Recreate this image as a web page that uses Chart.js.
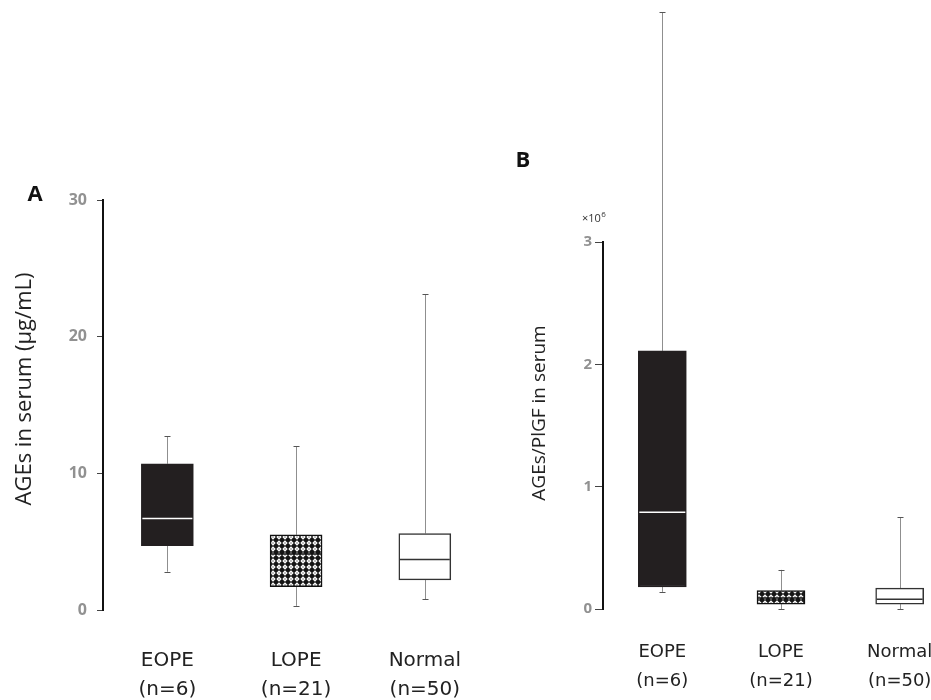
<!DOCTYPE html>
<html>
<head>
<meta charset="utf-8">
<script src="https://cdn.jsdelivr.net/npm/chart.js@4.4.0/dist/chart.umd.min.js"></script>
<style>
  html, body { margin: 0; padding: 0; background: #fff; overflow: hidden; width: 931px; height: 700px; }
  #chartA { position: absolute; left: 0; top: 0; }
  #chartB { position: absolute; left: 480px; top: 0; }
</style>
</head>
<body>
<canvas id="chartA" width="497" height="700"></canvas>
<canvas id="chartB" width="482" height="700"></canvas>
<script>
// groups
var categories = ["EOPE", "LOPE", "Normal"];
var sampleSizes = ["(n=6)", "(n=21)", "(n=50)"];

// panel A: AGEs in serum (ug/mL)
var agesMin    = [2.8, 0.3, 0.8];
var agesQ1     = [4.7, 1.7, 2.2];
var agesMedian = [6.7, 4.1, 3.7];
var agesQ3     = [10.7, 5.5, 5.6];
var agesMax    = [12.7, 12.0, 23.1];
var agesTicks  = [0, 10, 20, 30];

// panel B: AGEs/PlGF in serum (x10^6)
var ratioMin    = [0.14, 0.0, 0.0];
var ratioQ1     = [0.18, 0.04, 0.04];
var ratioMedian = [0.79, 0.09, 0.08];
var ratioQ3     = [2.11, 0.15, 0.17];
var ratioMax    = [4.88, 0.32, 0.75];
var ratioTicks  = [0, 1, 2, 3];

// diamond lattice fill for the LOPE box
function makePattern() {
  var c = document.createElement('canvas');
  c.width = 6; c.height = 6;
  var g = c.getContext('2d');
  g.fillStyle = '#151515';
  g.fillRect(0, 0, 6, 6);
  g.fillStyle = '#fff';
  g.beginPath();
  g.moveTo(3, 0.3); g.lineTo(5.7, 3); g.lineTo(3, 5.7); g.lineTo(0.3, 3);
  g.closePath();
  g.fill();
  g.fillStyle = '#151515';
  g.fillRect(2.5, 2.5, 1, 1);
  return g.createPattern(c, 'repeat');
}
var dots = makePattern();

var boxFill   = ['#231f20', dots, '#ffffff'];
var boxBorder = ['#231f20', '#111111', '#333333'];
var medColor  = ['#ffffff', '#111111', '#333333'];

var boxPlugin = {
  id: 'boxParts',
  beforeDatasetsDraw: function (chart) {
    var s = chart.config.options.plugins.boxParts;
    var x = chart.scales.x, y = chart.scales.y, ctx = chart.ctx;
    ctx.save();
    s.min.forEach(function (v, i) {
      var px = Math.round(x.getPixelForValue(i)) + 0.5;
      ctx.strokeStyle = '#8f8f8f';
      ctx.lineWidth = 1;
      ctx.beginPath();
      ctx.moveTo(px, y.getPixelForValue(s.max[i]));
      ctx.lineTo(px, y.getPixelForValue(s.q3[i]));
      ctx.moveTo(px, y.getPixelForValue(s.q1[i]));
      ctx.lineTo(px, y.getPixelForValue(v));
      ctx.stroke();
      ctx.strokeStyle = '#555';
      ctx.beginPath();
      [s.max[i], v].forEach(function (w) {
        var py = Math.round(y.getPixelForValue(w)) + 0.5;
        ctx.moveTo(px - 3, py);
        ctx.lineTo(px + 3, py);
      });
      ctx.stroke();
    });
    ctx.restore();
  },
  afterDatasetsDraw: function (chart) {
    var s = chart.config.options.plugins.boxParts;
    var y = chart.scales.y, ctx = chart.ctx;
    var bars = chart.getDatasetMeta(0).data;
    ctx.save();
    s.median.forEach(function (v, i) {
      var py = y.getPixelForValue(v);
      ctx.strokeStyle = medColor[i];
      ctx.lineWidth = 1.5;
      ctx.beginPath();
      ctx.moveTo(bars[i].x - bars[i].width / 2 + 1, py);
      ctx.lineTo(bars[i].x + bars[i].width / 2 - 1, py);
      ctx.stroke();
    });
    ctx.restore();
  },
  afterDraw: function (chart) {
    var t = chart.config.options.plugins.boxParts.text;
    var ctx = chart.ctx;
    ctx.save();
    ctx.fillStyle = '#111';
    ctx.font = 'bold 22px "Open Sans"';
    ctx.textAlign = 'center';
    ctx.textBaseline = 'middle';
    ctx.fillText(t.letter, t.letterX, t.letterY);
    ctx.save();
    ctx.translate(t.titleX, t.titleY);
    ctx.rotate(-Math.PI / 2);
    ctx.fillStyle = '#222';
    ctx.font = t.titleFont;
    ctx.fillText(t.title, 0, 0);
    ctx.restore();
    if (t.exp) {
      ctx.fillStyle = '#333';
      ctx.textAlign = 'left';
      ctx.font = '11px "Open Sans"';
      ctx.fillText('\u00d710', t.expX, t.expY);
      var w = ctx.measureText('\u00d710').width;
      ctx.font = '8px "Open Sans"';
      ctx.fillText('6', t.expX + w + 0.5, t.expY - 4);
    }
    ctx.restore();
  }
};

function makeChart(id, st, cfg) {
  return new Chart(document.getElementById(id), {
    type: 'bar',
    data: {
      labels: categories,
      datasets: [{
        data: st.q1.map(function (v, i) { return [v, st.q3[i]]; }),
        backgroundColor: boxFill,
        borderColor: boxBorder,
        borderWidth: 1.5,
        borderSkipped: false,
        barThickness: cfg.barWidth
      }]
    },
    options: {
      responsive: false,
      animation: false,
      events: [],
      layout: { padding: cfg.padding },
      plugins: {
        legend: { display: false },
        tooltip: { enabled: false },
        boxParts: st
      },
      scales: {
        x: {
          grid: { display: false, drawTicks: false },
          border: { display: false },
          ticks: {
            color: '#222',
            padding: cfg.xPad,
            font: { family: 'DejaVu Sans', size: cfg.xFont, lineHeight: cfg.xLine },
            callback: function (v, i) { return [categories[i], sampleSizes[i]]; }
          },
          afterFit: function (s) { s.height = cfg.xHeight; }
        },
        y: {
          min: cfg.ticks[0],
          max: cfg.ticks[cfg.ticks.length - 1],
          afterBuildTicks: function (s) { s.ticks = cfg.ticks.map(function (v) { return { value: v }; }); },
          ticks: {
            color: '#919191',
            padding: cfg.yPad,
            font: { family: 'Open Sans', size: cfg.yFont, weight: 'bold' }
          },
          grid: { drawOnChartArea: false, drawTicks: true, tickLength: cfg.tickLen, color: '#444', lineWidth: 1 },
          border: { display: true, color: '#111', width: 2 },
          afterFit: function (s) { s.width = cfg.yWidth; }
        }
      }
    },
    plugins: [boxPlugin]
  });
}

makeChart('chartA', {
  min: agesMin, q1: agesQ1, median: agesMedian, q3: agesQ3, max: agesMax,
  text: { letter: 'A', letterX: 35, letterY: 195, title: 'AGEs in serum (\u03bcg/mL)',
          titleFont: '22px "Open Sans"', titleX: 25, titleY: 389 }
}, {
  barWidth: 52, padding: { left: 0, right: 0, top: 200, bottom: 0 },
  xPad: 36, xFont: 20, xLine: 1.45, xHeight: 90,
  ticks: agesTicks, yPad: 10, yFont: 16, tickLen: 6, yWidth: 103
});

makeChart('chartB', {
  min: ratioMin, q1: ratioQ1, median: ratioMedian, q3: ratioQ3, max: ratioMax,
  text: { letter: 'B', letterX: 43, letterY: 161, title: 'AGEs/PlGF in serum',
          titleFont: '19px "Open Sans"', titleX: 60, titleY: 413,
          exp: true, expX: 102, expY: 219 }
}, {
  barWidth: 48, padding: { left: 0, right: 3, top: 242, bottom: 0 },
  xPad: 28, xFont: 18, xLine: 1.65, xHeight: 91,
  ticks: ratioTicks, yPad: 3, yFont: 15, tickLen: 8, yWidth: 123
});
</script>
</body>
</html>
